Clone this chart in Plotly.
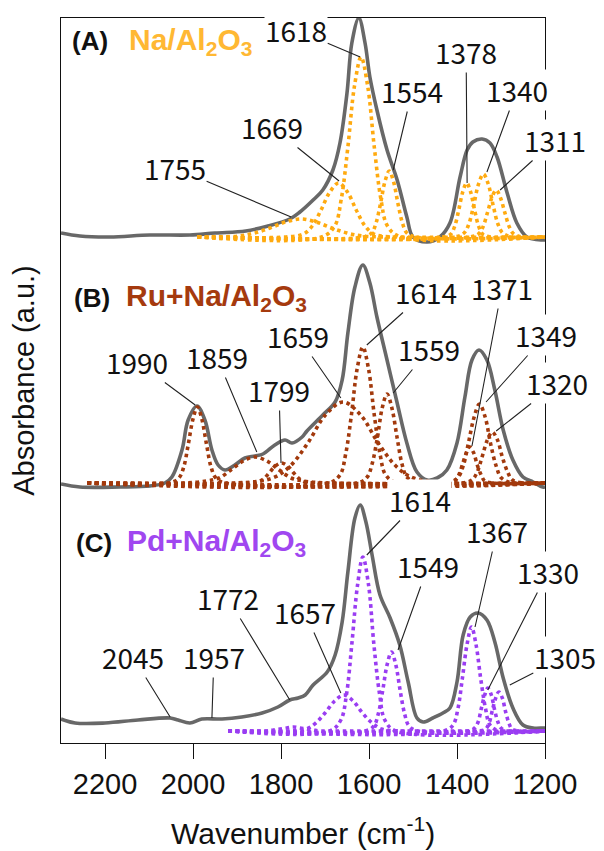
import plotly.graph_objects as go

# ------------------------------------------------------------------
# Panel A : Na/Al2O3   (measured spectrum, absorbance a.u.)
A_wn = [2300, 2257, 2189, 2098, 2007, 1950, 1880, 1830, 1780, 1757, 1727, 1705,
        1682, 1666, 1650, 1639, 1623, 1609, 1598, 1582, 1559, 1536, 1514, 1500,
        1468, 1439, 1416, 1393, 1377, 1364, 1343, 1325, 1309, 1286, 1264, 1241,
        1205, 1200]
A_abs = [0.04, 0.01, 0.00, 0.02, 0.02, 0.04, 0.06, 0.11, 0.18, 0.25, 0.37, 0.47,
         0.67, 0.94, 1.44, 1.94, 2.19, 1.94, 1.60, 1.27, 0.87, 0.57, 0.20, 0.00,
         -0.05, 0.00, 0.14, 0.60, 0.87, 0.95, 0.98, 0.94, 0.80, 0.44, 0.14, 0.00,
         -0.03, -0.03]
# fitted components (dotted)
A_comp_wn = [
    [1990, 1965, 1895, 1860, 1825, 1790, 1755, 1720, 1685, 1650, 1615, 1545, 1200],
    [1990, 1789, 1749, 1729, 1709, 1689, 1669, 1649, 1629, 1609, 1589, 1549, 1200],
    [1990, 1708, 1678, 1663, 1648, 1633, 1618, 1603, 1588, 1573, 1558, 1528, 1200],
    [1990, 1614, 1594, 1584, 1574, 1564, 1554, 1544, 1534, 1524, 1514, 1494, 1200],
    [1990, 1432, 1414, 1405, 1396, 1387, 1378, 1369, 1360, 1351, 1342, 1324, 1200],
    [1990, 1406, 1384, 1373, 1362, 1351, 1340, 1329, 1318, 1307, 1296, 1274, 1200],
    [1990, 1371, 1351, 1341, 1331, 1321, 1311, 1301, 1291, 1281, 1271, 1251, 1200],
]
A_comp_abs = [
    [0, 0, 0.01, 0.04, 0.09, 0.15, 0.18, 0.15, 0.09, 0.04, 0.01, 0, 0],
    [0, 0, 0.03, 0.11, 0.27, 0.45, 0.54, 0.45, 0.27, 0.11, 0.03, 0, 0],
    [0, 0, 0.11, 0.38, 0.90, 1.51, 1.80, 1.51, 0.90, 0.38, 0.11, 0, 0],
    [0, 0, 0.04, 0.14, 0.33, 0.55, 0.66, 0.55, 0.33, 0.14, 0.04, 0, 0],
    [0, 0, 0.03, 0.11, 0.27, 0.45, 0.54, 0.45, 0.27, 0.11, 0.03, 0, 0],
    [0, 0, 0.04, 0.13, 0.32, 0.53, 0.63, 0.53, 0.32, 0.13, 0.04, 0, 0],
    [0, 0, 0.03, 0.10, 0.24, 0.39, 0.47, 0.39, 0.24, 0.10, 0.03, 0, 0],
]
A_labels = ["1618", "1669", "1755", "1554", "1378", "1340", "1311"]
A_label_wn = [1620, 1668, 1777, 1545, 1377, 1332, 1302]
A_label_abs = [1.80, 0.56, 0.20, 0.67, 0.54, 0.65, 0.47]

# ------------------------------------------------------------------
# Panel B : Ru+Na/Al2O3
B_wn = [2300, 2257, 2166, 2098, 2064, 2048, 2025, 2011, 1991, 1973, 1957, 1943,
        1927, 1905, 1882, 1859, 1841, 1814, 1791, 1775, 1752, 1741, 1705, 1677,
        1661, 1648, 1632, 1614, 1598, 1582, 1559, 1536, 1514, 1491, 1468, 1445,
        1423, 1400, 1382, 1366, 1350, 1332, 1314, 1295, 1273, 1250, 1227, 1205,
        1200]
B_abs = [-0.01, -0.04, -0.04, -0.03, 0.00, 0.06, 0.33, 0.63, 0.77, 0.63, 0.33, 0.18,
         0.13, 0.18, 0.25, 0.27, 0.29, 0.38, 0.43, 0.40, 0.46, 0.52, 0.68, 0.81,
         1.03, 1.50, 1.96, 2.18, 2.00, 1.66, 1.23, 0.80, 0.40, 0.11, 0.03, 0.05,
         0.13, 0.40, 0.86, 1.23, 1.33, 1.23, 0.93, 0.53, 0.23, 0.06, 0.01, -0.04,
         -0.04]
B_comp_wn = [
    [2240, 2053, 2032, 2021, 2011, 2000, 1990, 1980, 1969, 1959, 1948, 1927, 1200],
    [2240, 2024, 1969, 1941, 1914, 1886, 1859, 1832, 1804, 1777, 1749, 1694, 1200],
    [2240, 1882, 1854, 1840, 1827, 1813, 1799, 1785, 1771, 1758, 1744, 1716, 1200],
    [2240, 1899, 1819, 1779, 1739, 1699, 1659, 1619, 1579, 1539, 1499, 1419, 1200],
    [2240, 1692, 1666, 1653, 1640, 1627, 1614, 1601, 1588, 1575, 1562, 1536, 1200],
    [2240, 1626, 1604, 1593, 1581, 1570, 1559, 1548, 1536, 1525, 1514, 1491, 1200],
    [2240, 1422, 1405, 1396, 1388, 1379, 1371, 1362, 1354, 1345, 1337, 1320, 1200],
    [2240, 1424, 1399, 1386, 1374, 1361, 1349, 1336, 1324, 1311, 1299, 1274, 1200],
    [2240, 1389, 1366, 1354, 1343, 1331, 1320, 1308, 1297, 1285, 1274, 1251, 1200],
]
B_comp_abs = [
    [0, 0, 0.05, 0.16, 0.38, 0.64, 0.76, 0.64, 0.38, 0.16, 0.05, 0, 0],
    [0, 0, 0.02, 0.05, 0.13, 0.22, 0.26, 0.22, 0.13, 0.05, 0.02, 0, 0],
    [0, 0, 0.01, 0.04, 0.10, 0.17, 0.20, 0.17, 0.10, 0.04, 0.01, 0, 0],
    [0, 0, 0.05, 0.17, 0.40, 0.68, 0.81, 0.68, 0.40, 0.17, 0.05, 0, 0],
    [0, 0, 0.08, 0.29, 0.68, 1.14, 1.36, 1.14, 0.68, 0.29, 0.08, 0, 0],
    [0, 0, 0.06, 0.19, 0.45, 0.75, 0.89, 0.75, 0.45, 0.19, 0.06, 0, 0],
    [0, 0, 0.02, 0.08, 0.18, 0.30, 0.36, 0.30, 0.18, 0.08, 0.02, 0, 0],
    [0, 0, 0.05, 0.17, 0.40, 0.66, 0.79, 0.66, 0.40, 0.17, 0.05, 0, 0],
    [0, 0, 0.03, 0.11, 0.26, 0.43, 0.51, 0.43, 0.26, 0.11, 0.03, 0, 0],
]
B_labels = ["1990", "1859", "1799", "1659", "1614", "1559", "1371", "1349", "1320"]
B_label_wn = [1995, 1855, 1800, 1664, 1605, 1545, 1366, 1334, 1311]
B_label_abs = [0.78, 0.31, 0.20, 0.85, 1.38, 0.90, 0.37, 0.81, 0.52]

# ------------------------------------------------------------------
# Panel C : Pd+Na/Al2O3
C_wn = [2300, 2268, 2200, 2125, 2052, 2034, 2007, 1980, 1934, 1889, 1843, 1807,
        1780, 1761, 1745, 1727, 1695, 1677, 1661, 1648, 1632, 1620, 1607, 1593,
        1575, 1552, 1530, 1511, 1491, 1477, 1455, 1432, 1416, 1400, 1386, 1370,
        1352, 1332, 1314, 1295, 1273, 1250, 1227, 1205, 1200]
C_abs = [0.12, 0.08, 0.08, 0.11, 0.13, 0.11, 0.08, 0.12, 0.12, 0.14, 0.18, 0.24,
         0.31, 0.33, 0.36, 0.46, 0.59, 0.76, 1.09, 1.59, 2.13, 2.26, 2.09, 1.76,
         1.36, 1.13, 0.86, 0.49, 0.13, 0.09, 0.13, 0.18, 0.23, 0.49, 0.96, 1.14,
         1.18, 1.11, 0.89, 0.53, 0.23, 0.06, 0.03, 0.03, 0.03]
C_comp_wn = [
    [1920, 1862, 1832, 1817, 1802, 1787, 1772, 1757, 1742, 1727, 1712, 1682, 1200],
    [1920, 1785, 1742, 1721, 1700, 1678, 1657, 1636, 1615, 1593, 1572, 1530, 1200],
    [1920, 1689, 1664, 1651, 1639, 1626, 1614, 1601, 1589, 1576, 1564, 1539, 1200],
    [1920, 1609, 1589, 1579, 1569, 1559, 1549, 1539, 1529, 1519, 1509, 1489, 1200],
    [1920, 1430, 1409, 1398, 1388, 1377, 1367, 1357, 1346, 1335, 1325, 1304, 1200],
    [1920, 1375, 1360, 1352, 1345, 1337, 1330, 1322, 1315, 1307, 1300, 1285, 1200],
    [1920, 1350, 1335, 1327, 1320, 1312, 1305, 1297, 1290, 1282, 1275, 1260, 1200],
]
C_comp_abs = [
    [0, 0, 0.00, 0.01, 0.02, 0.03, 0.04, 0.03, 0.02, 0.01, 0.00, 0, 0],
    [0, 0, 0.02, 0.08, 0.18, 0.30, 0.36, 0.30, 0.18, 0.08, 0.02, 0, 0],
    [0, 0, 0.11, 0.37, 0.87, 1.46, 1.74, 1.46, 0.87, 0.37, 0.11, 0, 0],
    [0, 0, 0.05, 0.17, 0.40, 0.66, 0.79, 0.66, 0.40, 0.17, 0.05, 0, 0],
    [0, 0, 0.06, 0.22, 0.52, 0.87, 1.04, 0.87, 0.52, 0.22, 0.06, 0, 0],
    [0, 0, 0.03, 0.09, 0.22, 0.36, 0.43, 0.36, 0.22, 0.09, 0.03, 0, 0],
    [0, 0, 0.02, 0.08, 0.20, 0.33, 0.39, 0.33, 0.20, 0.08, 0.02, 0, 0],
]
C_labels = ["1614", "1367", "1549", "1330", "1305", "1657", "1772", "2045", "1957"]
C_label_wn = [1605, 1359, 1534, 1330, 1280, 1664, 1780, 2052, 1957]
C_label_abs = [1.76, 1.04, 0.81, 0.41, 0.46, 0.38, 0.31, 0.14, 0.13]

tick_vals = [2200, 2000, 1800, 1600, 1400, 1200]

# ------------------------------------------------------------------
# styling / layout (label offsets in pixels relative to the leader end point)
A_label_dx = [-64, -67, -116, 19, -1, 30, 55]
A_label_dy = [-27, -54, -49, -79, -131, -82, -50]
B_label_dx = [-58, -40, -2, -43, 59, 36, 30, 60, 61]
B_label_dy = [-43, -95, -73, -62, -53, -44, -158, -67, -48]
C_label_dx = [53, 22, 30, 60, 55, -36, -62, -37, 2]
C_label_dy = [-55, -96, -84, -118, -28, -81, -102, -60, -61]

panels = [
    dict(key="(A)", name="Na/Al<sub>2</sub>O<sub>3</sub>", off=5.06,
         wn=A_wn, ab=A_abs, cwn=A_comp_wn, cab=A_comp_abs,
         lab=A_labels, lwn=A_label_wn, lab_abs=A_label_abs,
         dx=A_label_dx, dy=A_label_dy,
         dot="#FFAA0F", txt="#FFB833", title_y=0.968, kx=0.019, nx=0.136),
    dict(key="(B)", name="Ru+Na/Al<sub>2</sub>O<sub>3</sub>", off=2.60,
         wn=B_wn, ab=B_abs, cwn=B_comp_wn, cab=B_comp_abs,
         lab=B_labels, lwn=B_label_wn, lab_abs=B_label_abs,
         dx=B_label_dx, dy=B_label_dy,
         dot="#A2390C", txt="#A53A0E", title_y=0.614, kx=0.023, nx=0.130),
    dict(key="(C)", name="Pd+Na/Al<sub>2</sub>O<sub>3</sub>", off=0.12,
         wn=C_wn, ab=C_abs, cwn=C_comp_wn, cab=C_comp_abs,
         lab=C_labels, lwn=C_label_wn, lab_abs=C_label_abs,
         dx=C_label_dx, dy=C_label_dy,
         dot="#9A3DF2", txt="#A047F0", title_y=0.276, kx=0.027, nx=0.132),
]

fig = go.Figure()
annotations = []
LABEL_FONT = dict(family="Noto Sans CJK JP, Noto Sans, sans-serif", size=28, color="#111111")
TITLE_FONT = "Liberation Sans, Arial, sans-serif"

for p in panels:
    off = p["off"]
    fig.add_trace(go.Scatter(
        x=p["wn"], y=[off + v for v in p["ab"]], mode="lines",
        line=dict(color="#686868", width=3.6, shape="spline", smoothing=1.0),
        hoverinfo="skip", showlegend=False))
    for xs, ys in zip(p["cwn"], p["cab"]):
        fig.add_trace(go.Scatter(
            x=xs, y=[off + v for v in ys], mode="lines",
            line=dict(color=p["dot"], width=3.6, dash="dot", shape="spline", smoothing=1.0),
            hoverinfo="skip", showlegend=False))
    for t, x, y, dx, dy in zip(p["lab"], p["lwn"], p["lab_abs"], p["dx"], p["dy"]):
        annotations.append(dict(
            x=x, y=off + y, xref="x", yref="y", text=t, showarrow=True,
            ax=dx, ay=dy, arrowhead=0, arrowwidth=1.1, arrowcolor="#222222",
            standoff=0, startstandoff=0, bgcolor="rgba(255,255,255,1)",
            borderpad=0, font=LABEL_FONT))
    annotations.append(dict(
        x=p["kx"], y=p["title_y"], xref="paper", yref="paper", text="<b>" + p["key"] + "</b>",
        showarrow=False, xanchor="left", yanchor="middle",
        font=dict(family=TITLE_FONT, size=26, color="#111111")))
    annotations.append(dict(
        x=p["nx"], y=p["title_y"], xref="paper", yref="paper", text="<b>" + p["name"] + "</b>",
        showarrow=False, xanchor="left", yanchor="middle",
        font=dict(family=TITLE_FONT, size=30, color=p["txt"])))

# axis titles
annotations.append(dict(
    x=-0.078, y=0.5, xref="paper", yref="paper", text="Absorbance (a.u.)",
    textangle=-90, showarrow=False, xanchor="center", yanchor="middle",
    font=dict(family=TITLE_FONT, size=29, color="#111111")))
annotations.append(dict(
    x=0.5, y=-0.1214, xref="paper", yref="paper", text="Wavenumber (cm<sup>-1</sup>)",
    showarrow=False, xanchor="center", yanchor="middle",
    font=dict(family=TITLE_FONT, size=30, color="#111111")))

# the page body has an 8 px margin, so the figure is 8 px smaller and the
# margins are shifted to put the frame at the reference pixel position
fig.update_layout(
    width=596, height=843,
    margin=dict(l=53, r=59, t=10, b=108),
    paper_bgcolor="white", plot_bgcolor="white",
    annotations=annotations,
    xaxis=dict(
        range=[2300, 1200], tickmode="array", tickvals=tick_vals,
        ticktext=[str(v) for v in tick_vals],
        ticks="outside", ticklen=15, tickwidth=1.3, tickcolor="#111111",
        showline=True, linecolor="#111111", linewidth=1.3, mirror=True,
        showgrid=False, zeroline=False, automargin=False,
        tickfont=dict(family=TITLE_FONT, size=29, color="#111111"),
    ),
    yaxis=dict(
        range=[0, 7.25], showticklabels=False, ticks="",
        showline=True, linecolor="#111111", linewidth=1.3, mirror=True,
        showgrid=False, zeroline=False, automargin=False,
    ),
)

fig.write_html("out.html")
